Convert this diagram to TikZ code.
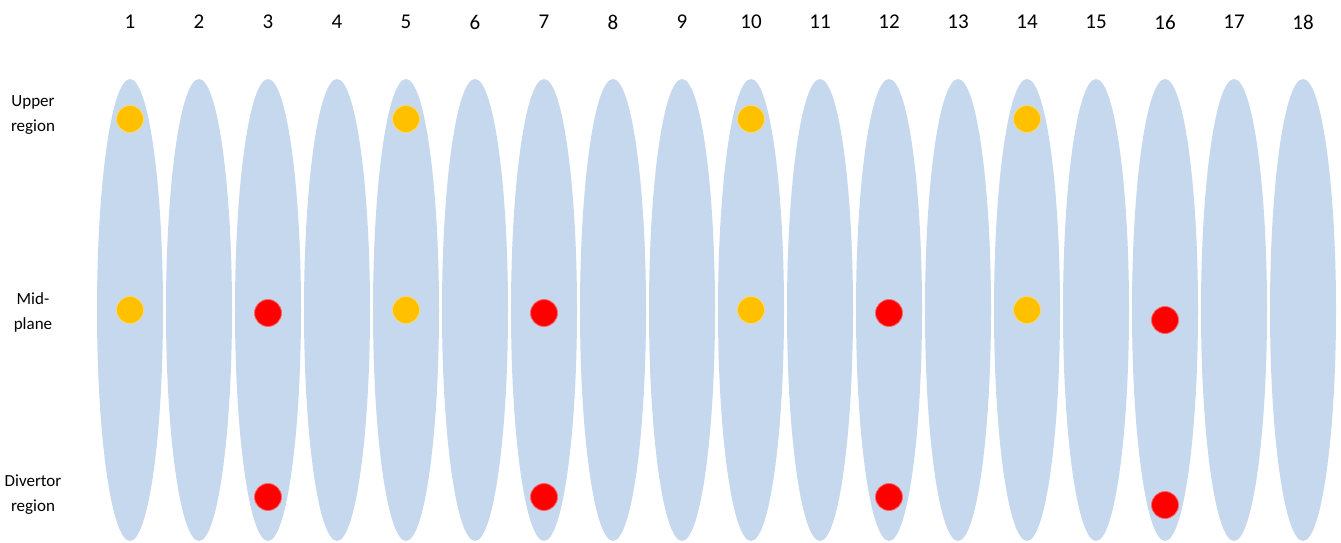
\documentclass[tikz,border=0pt]{standalone}
\usepackage{fontspec}
\setmainfont{Carlito}
\definecolor{ellblue}{RGB}{197,216,238}
\definecolor{dotyellow}{RGB}{255,192,0}
\definecolor{dotred}{RGB}{255,0,0}
\begin{document}
\begin{tikzpicture}[x=1pt,y=-1pt,
  lobe/.style={fill=ellblue,draw=none},
  numlabel/.style={font=\fontsize{21}{24}\selectfont,anchor=center,inner sep=0pt},
  rowlabel/.style={font=\fontsize{17}{25}\selectfont,align=center,inner sep=0pt},
  ydot/.style={circle,fill=dotyellow,draw=dotyellow!60!white,line width=0.8pt,minimum size=27pt,inner sep=0pt},
  rdot/.style={circle,fill=dotred,draw=dotred!60!white,line width=0.8pt,minimum size=27pt,inner sep=0pt}]
\useasboundingbox (0,0) rectangle (1341,543);
\foreach \i in {1,...,18}{
  \pgfmathsetmacro{\cx}{130+69*(\i-1)}
  \fill[lobe] (\cx,310) ellipse [x radius=33, y radius=231];
  \node[numlabel] (n\i) at (\cx,22) {\i};
}
\node[rowlabel] (lup) at (33,115) {Upper\\region};
\node[rowlabel] (lmid) at (33,312) {Mid-\\plane};
\node[rowlabel] (ldiv) at (33,495) {Divertor\\region};
% yellow dots
\foreach \i in {1,5,10,14}{
  \pgfmathsetmacro{\cx}{130+69*(\i-1)}
  \node[ydot] (yu\i) at (\cx,119) {};
  \node[ydot] (ym\i) at (\cx,310) {};
}
% red dots
\foreach \i in {3,7,12}{
  \pgfmathsetmacro{\cx}{130+69*(\i-1)}
  \node[rdot] (rm\i) at (\cx,313) {};
  \node[rdot] (rd\i) at (\cx,497) {};
}
\node[rdot] (rm16) at (1165,320) {};
\node[rdot] (rd16) at (1165,505) {};
\end{tikzpicture}
\end{document}
